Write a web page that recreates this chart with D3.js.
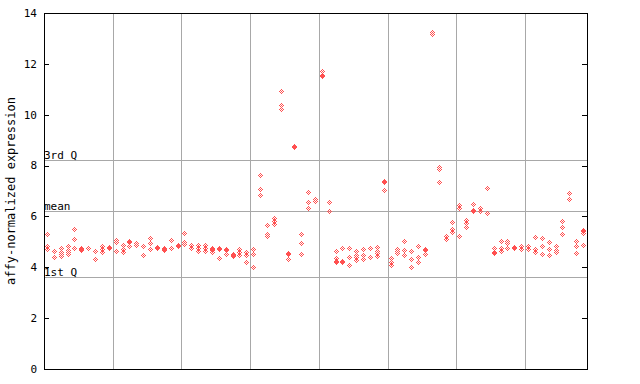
<!DOCTYPE html>
<html><head><meta charset="utf-8">
<script src="https://cdn.jsdelivr.net/npm/d3@7"></script>
<style>
body{margin:0;background:#fff}
svg{display:block}
text{font-family:"DejaVu Sans Mono",monospace;fill:#000}
</style>
</head><body>
<svg id="chart" width="640" height="384"></svg>
<script>
// ---- data ----
const yTicks = [0, 2, 4, 6, 8, 10, 12, 14];
const refLabels = ["3rd Q", "mean", "1st Q"];
const refValues = [8.22, 6.20, 3.61];
const gridColumns = [10, 20, 30, 40, 50, 60, 70];
const yTitle = "affy-normalized expression";
// expression values per sample column (79 columns)
const sampleValues = [
  [5.30, 4.81, 4.71],
  [4.64, 4.39],
  [4.72, 4.60, 4.52, 4.44],
  [4.81, 4.66, 4.58, 4.50],
  [5.50, 5.10, 4.75],
  [4.75, 4.70, 4.66],
  [4.75],
  [4.64, 4.29],
  [4.81, 4.71, 4.60],
  [4.78, 4.74],
  [5.07, 4.98, 4.64],
  [4.84, 4.71, 4.60],
  [5.00, 4.96, 4.81],
  [4.92, 4.84],
  [4.80, 4.48],
  [5.14, 4.92, 4.71],
  [4.79, 4.75],
  [4.75, 4.71, 4.67],
  [5.07, 4.75],
  [4.86, 4.82],
  [5.33, 4.98, 4.88],
  [4.84, 4.75],
  [4.84, 4.75, 4.64],
  [4.86, 4.75, 4.64],
  [4.75, 4.70, 4.66, 4.58],
  [4.75, 4.71, 4.34],
  [4.70, 4.66, 4.52],
  [4.52, 4.48, 4.42],
  [4.68, 4.58, 4.47],
  [4.58, 4.47, 4.18],
  [4.68, 4.52, 4.00],
  [7.62, 7.07, 6.84],
  [5.65, 5.30, 5.20],
  [5.93, 5.81, 5.69],
  [10.92, 10.37, 10.21],
  [4.55, 4.51, 4.31],
  [8.75, 8.71],
  [5.30, 4.94, 4.52],
  [6.95, 6.55, 6.32],
  [6.67, 6.58],
  [11.68, 11.55, 11.51],
  [6.55, 6.20],
  [4.63, 4.35, 4.24, 4.20],
  [4.75, 4.24, 4.20],
  [4.72, 4.39, 4.08],
  [4.64, 4.47, 4.39, 4.27],
  [4.70, 4.47, 4.31],
  [4.72, 4.39],
  [4.76, 4.64, 4.55, 4.42],
  [7.39, 7.35, 7.03],
  [4.33, 4.20, 4.08],
  [4.68, 4.64, 4.53],
  [5.03, 4.67, 4.47],
  [4.64, 4.31, 4.00],
  [4.80, 4.40, 4.20],
  [4.70, 4.66, 4.50],
  [13.25, 13.17],
  [7.92, 7.85, 7.34],
  [5.20, 5.11],
  [5.78, 5.49, 5.37],
  [6.42, 6.32, 5.23],
  [5.83, 5.71, 5.58],
  [6.48, 6.23, 6.19],
  [6.32, 6.21],
  [7.10, 6.12],
  [4.75, 4.60, 4.56],
  [5.03, 4.72, 4.63],
  [5.03, 4.92, 4.72],
  [4.78, 4.74],
  [4.82, 4.70],
  [4.82, 4.71],
  [5.18, 4.68, 4.59],
  [5.13, 4.83, 4.52],
  [4.98, 4.68, 4.47],
  [4.80, 4.67, 4.57],
  [5.81, 5.57, 5.30],
  [6.89, 6.67],
  [5.02, 4.80, 4.56],
  [5.43, 5.39, 5.33, 4.87]
];

// ---- chart ----
const svg = d3.select("#chart");
const mLeft = 44, mRight = 587, mTop = 13, mBottom = 369;
const x = d3.scaleLinear().domain([0, sampleValues.length]).range([mLeft, mRight]);
const y = d3.scaleLinear().domain([0, 14]).range([mBottom, mTop]);
const crisp = v => Math.round(v) + 0.5;
const gridColor = "#a8a8a8";
const pointColor = "rgb(255,80,80)";

// vertical grid
svg.append("g").selectAll("line").data(gridColumns).join("line")
  .attr("x1", d => crisp(x(d))).attr("x2", d => crisp(x(d)))
  .attr("y1", mTop).attr("y2", mBottom)
  .attr("stroke", gridColor).attr("stroke-width", 1);

// reference lines
svg.append("g").selectAll("line").data(refValues).join("line")
  .attr("x1", mLeft).attr("x2", mRight)
  .attr("y1", d => crisp(y(d))).attr("y2", d => crisp(y(d)))
  .attr("stroke", gridColor).attr("stroke-width", 1);

svg.append("g").selectAll("text").data(refValues).join("text")
  .attr("x", mLeft).attr("y", d => Math.round(y(d)) - 1)
  .attr("font-size", 11)
  .text((d, i) => refLabels[i]);

// points as pixel diamonds
function diamondPath(cx, cy) {
  let p = "";
  for (let dy = -2; dy <= 2; dy++) {
    for (let dx = -2; dx <= 2; dx++) {
      if (Math.abs(dx) + Math.abs(dy) <= 2 && (dx + dy) % 2 === 0) {
        p += `M${cx + dx},${cy + dy}h1v1h-1z`;
      }
    }
  }
  return p;
}
const points = [];
sampleValues.forEach((vals, i) => vals.forEach(v => points.push({i, v})));
svg.append("g").selectAll("path").data(points).join("path")
  .attr("d", d => diamondPath(Math.floor(x(d.i + 0.5)), Math.floor(y(d.v))))
  .attr("fill", pointColor)
  .attr("shape-rendering", "crispEdges");

// frame
svg.append("rect").attr("x", mLeft + 0.5).attr("y", mTop + 0.5)
  .attr("width", mRight - mLeft).attr("height", mBottom - mTop)
  .attr("stroke", "#000").attr("stroke-width", 1).attr("fill", "none");

// left axis ticks and labels
const yAxisL = svg.append("g");
yAxisL.selectAll("line").data(yTicks).join("line")
  .attr("x1", mLeft).attr("x2", mLeft + 5)
  .attr("y1", d => crisp(y(d))).attr("y2", d => crisp(y(d)))
  .attr("stroke", "#000");
yAxisL.selectAll("text").data(yTicks).join("text")
  .attr("x", 37).attr("y", d => y(d)).attr("dy", "0.35em")
  .attr("text-anchor", "end").attr("font-size", 11)
  .text(d => d);

// right axis ticks
svg.append("g").selectAll("line").data(yTicks).join("line")
  .attr("x1", mRight - 5).attr("x2", mRight)
  .attr("y1", d => crisp(y(d))).attr("y2", d => crisp(y(d)))
  .attr("stroke", "#000");

// y title
svg.append("text")
  .attr("transform", `translate(15,${(mTop + mBottom) / 2}) rotate(-90)`)
  .attr("text-anchor", "middle").attr("font-size", 12)
  .text(yTitle);
</script>
</body></html>
